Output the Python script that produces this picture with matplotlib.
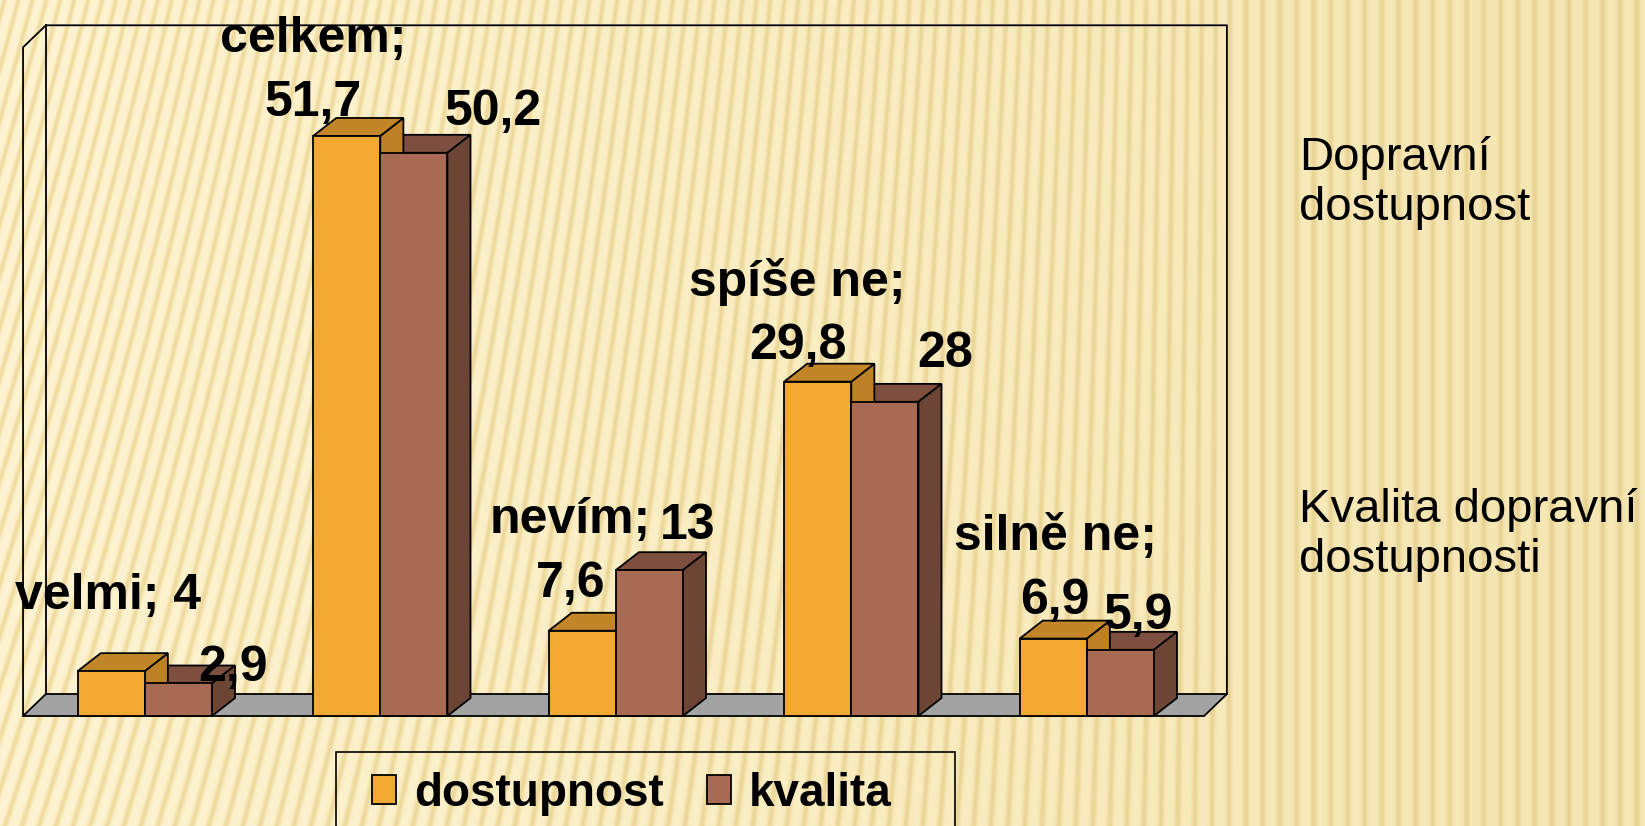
import matplotlib
matplotlib.use("Agg")
import matplotlib.pyplot as plt
from matplotlib.patches import Polygon, Rectangle
import numpy as np

# ── Data ──
categories = ["velmi", "celkem", "nevím", "spíše ne", "silně ne"]
dostupnost = [4, 51.7, 7.6, 29.8, 6.9]
kvalita = [2.9, 50.2, 13, 28, 5.9]
series_names = ["dostupnost", "kvalita"]
side_notes = ["Dopravní\ndostupnost", "Kvalita dopravní\ndostupnosti"]

# ── Style ──
W_PX, H_PX = 1645, 826
FONT = ["Liberation Sans", "DejaVu Sans"]
ORANGE = ("#F2A932", "#C28528", "#BE8024")  # front, top, side
BROWN = ("#A96A53", "#7E4F3E", "#6C4535")
FLOOR = "#A3A3A3"
BAR_W = 0.285
DX, DY = 0.098, 1.6          # bar depth in data units
FDX, FDY = 0.097, 1.96       # floor/wall depth
WALL_TOP = 59.6
FLOOR_L, FLOOR_R = -0.517, 4.498

# label offsets (px) from bar top-centre; category line sits CAT_SHIFT px above value
orange_off = [(-3, 75), (-34, 33), (-12, 47), (-20, 36), (2, 38)]
brown_off = [(55, 15), (79, 41), (38, 44), (60, 48), (18, 34)]
one_line = [True, False, False, False, False]
CAT_SHIFT = 64


def fmt(v):
    return f"{v:g}".replace(".", ",")


def background():
    yy, xx = np.mgrid[0:H_PX, 0:W_PX]
    t = (xx / W_PX)[..., None]
    slant = 0.33 * np.clip(1 - xx / (0.75 * W_PX), 0, 1)
    phase = (xx - slant * (H_PX - yy)) / 17.0 * 2 * np.pi
    dark = ((0.5 + 0.5 * np.sin(phase)) ** 3)[..., None]
    light_c = np.array([254, 244, 210]) * (1 - t) + np.array([245, 230, 178]) * t
    dark_c = np.array([240, 219, 158]) * (1 - t) + np.array([231, 210, 146]) * t
    return (light_c + (dark_c - light_c) * dark) / 255.0


fig = plt.figure(figsize=(W_PX / 100, H_PX / 100), dpi=100)

bg = fig.add_axes([0, 0, 1, 1], zorder=0)
bg.imshow(background(), aspect="auto", interpolation="bilinear")
bg.axis("off")

ax = fig.add_axes([0, 0, 1, 1], zorder=1)
ax.patch.set_alpha(0)
ax.set_xlim((0 - 144.8) / 235.5, (W_PX - 144.8) / 235.5)
ax.set_ylim((716 - H_PX) / 11.22, 716 / 11.22)
ax.axis("off")

# floor and walls
floor = Polygon([(FLOOR_L, 0), (FLOOR_R, 0), (FLOOR_R + FDX, FDY), (FLOOR_L + FDX, FDY)],
                closed=True, facecolor=FLOOR, edgecolor="black", lw=1.3, zorder=1)
ax.add_patch(floor)
wall_kw = dict(color="black", lw=1.3, zorder=1)
bl, br = FLOOR_L + FDX, FLOOR_R + FDX
ax.plot([FLOOR_L, FLOOR_L, bl, br, br], [0, WALL_TOP, WALL_TOP + FDY, WALL_TOP + FDY, FDY], **wall_kw)
ax.plot([bl, bl], [FDY, WALL_TOP + FDY], **wall_kw)

x = np.arange(len(categories))
bars_o = ax.bar(x - BAR_W / 2, dostupnost, BAR_W, color=ORANGE[0], edgecolor="black",
                lw=1.3, zorder=3.5, label=series_names[0])
bars_b = ax.bar(x + BAR_W / 2, kvalita, BAR_W, color=BROWN[0], edgecolor="black",
                lw=1.3, zorder=4, label=series_names[1])


def add_faces(bars, colors, z_top, z_side):
    for r in bars:
        x0, w, h = r.get_x(), r.get_width(), r.get_height()
        top = [(x0, h), (x0 + w, h), (x0 + w + DX, h + DY), (x0 + DX, h + DY)]
        side = [(x0 + w, 0), (x0 + w + DX, DY), (x0 + w + DX, h + DY), (x0 + w, h)]
        ax.add_patch(Polygon(side, closed=True, facecolor=colors[2], edgecolor="black",
                             lw=1.3, zorder=z_side))
        ax.add_patch(Polygon(top, closed=True, facecolor=colors[1], edgecolor="black",
                             lw=1.3, zorder=z_top))


add_faces(bars_b, BROWN, 2, 4)
add_faces(bars_o, ORANGE, 3, 3)

# data labels
lab_kw = dict(textcoords="offset points", ha="center", va="center", fontsize=36,
              fontweight="bold", family=FONT, zorder=6)
for i, (r, cat, v) in enumerate(zip(bars_o, categories, dostupnost)):
    ox, oy = orange_off[i]
    anchor = (r.get_x() + r.get_width() / 2, v)
    if one_line[i]:
        ax.annotate(f"{cat}; {fmt(v)}", anchor, xytext=(ox * 0.72, oy * 0.72), **lab_kw)
    else:
        ax.annotate(fmt(v), anchor, xytext=(ox * 0.72, oy * 0.72), **lab_kw)
        ax.annotate(f"{cat};", anchor, xytext=(ox * 0.72, (oy + CAT_SHIFT) * 0.72), **lab_kw)
for i, (r, v) in enumerate(zip(bars_b, kvalita)):
    ox, oy = brown_off[i]
    ax.annotate(fmt(v), (r.get_x() + r.get_width() / 2, v),
                xytext=(ox * 0.72, oy * 0.72), **lab_kw)

# legend
fig.legend(handles=[bars_o, bars_b], loc="center left",
           bbox_to_anchor=(372 / W_PX, 1 - 794 / H_PX), ncol=2, frameon=False,
           prop=dict(family=FONT, weight="bold", size=33), handlelength=0.52,
           handleheight=0.6, handletextpad=0.39, columnspacing=0.96, borderpad=0,
           borderaxespad=0)
fig.add_artist(Rectangle((336 / W_PX, -0.02), (955 - 336) / W_PX, 0.02 + 1 - 752 / H_PX,
                         transform=fig.transFigure, fill=False, edgecolor="black", lw=1.2))

# side notes
for note, yc in zip(side_notes, [183, 535]):
    fig.text(1299 / W_PX, 1 - yc / H_PX, note, ha="left", va="center", fontsize=34,
             family=FONT, linespacing=1.2)

fig.savefig("out.png", dpi=100)
